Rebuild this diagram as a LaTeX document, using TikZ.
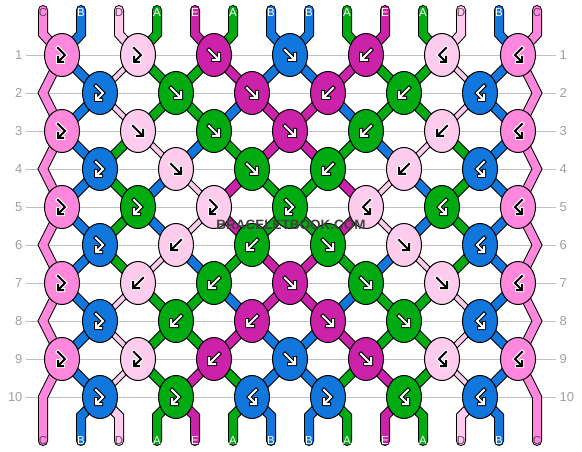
\documentclass[tikz,border=0pt]{standalone}
\usepackage{fontspec}
\setmainfont{Liberation Sans}
\usetikzlibrary{shapes.geometric,backgrounds}

\definecolor{thrA}{HTML}{00AA11}
\definecolor{thrB}{HTML}{1177DD}
\definecolor{thrC}{HTML}{FF88DD}
\definecolor{thrD}{HTML}{FFCCEE}
\definecolor{thrE}{HTML}{CC22AA}
\colorlet{inkA}{white}\colorlet{rimA}{black}
\colorlet{inkB}{white}\colorlet{rimB}{black}
\colorlet{inkE}{white}\colorlet{rimE}{black}
\colorlet{inkC}{black}\colorlet{rimC}{white}
\colorlet{inkD}{black}\colorlet{rimD}{white}
\colorlet{txtA}{white}\colorlet{txtB}{white}\colorlet{txtE}{white}
\definecolor{txtC}{HTML}{6E3A66}\colorlet{txtD}{txtC}

\tikzset{
  knot/.style={ellipse, draw, line width=1pt, minimum width=35pt, minimum height=43pt, inner sep=0pt},
  strand/.style={line width=1pt, double distance=8pt, line cap=round},
  linkA/.style={}, linkB/.style={}, linkC/.style={}, linkE/.style={},
  linkD/.style={double distance=4.5pt},
  gridline/.style={black!25, line width=0.9pt},
  rowno/.style={text=gray!75, font=\fontsize{13}{13}\selectfont},
  endlabel/.style={font=\fontsize{11.5}{12}\selectfont, inner sep=0pt},
  % knot icons: #1 ink, #2 rim
  pics/fwd/.style 2 args={code={
    \draw[line width=4pt, line cap=rect, #2] (-5,-5) -- (4,4) (-1,5) -- (5,5) -- (5,-1);
    \draw[line width=2pt, line cap=rect, #1] (-5,-5) -- (4,4) (-1,5) -- (5,5) -- (5,-1);}},
  pics/bwd/.style 2 args={code={
    \draw[line width=4pt, line cap=rect, #2] (5,-5) -- (-4,4) (1,5) -- (-5,5) -- (-5,-1);
    \draw[line width=2pt, line cap=rect, #1] (5,-5) -- (-4,4) (1,5) -- (-5,5) -- (-5,-1);}},
  pics/fb/.style 2 args={code={
    \draw[line width=4pt, line cap=rect, #2] (-4,-7) -- (3,0) -- (-3,6) (-4,2) -- (-4,7) -- (1,7);
    \draw[line width=2pt, line cap=rect, #1] (-4,-7) -- (3,0) -- (-3,6) (-4,2) -- (-4,7) -- (1,7);}},
  pics/bf/.style 2 args={code={
    \draw[line width=4pt, line cap=rect, #2] (4,-7) -- (-3,0) -- (3,6) (4,2) -- (4,7) -- (-1,7);
    \draw[line width=2pt, line cap=rect, #1] (4,-7) -- (-3,0) -- (3,6) (4,2) -- (4,7) -- (-1,7);}},
}

\begin{document}
\begin{tikzpicture}[x=1pt,y=-1pt]
\useasboundingbox (0,0) rectangle (582,452);

% string ends, top and bottom
\foreach \c [count=\p] in {C,B,D,A,E,A,B,B,A,E,A,D,B,C} {
  \coordinate (top-\p) at (5+38*\p,10);
  \coordinate (tbend-\p) at (5+38*\p,34);
  \coordinate (bbend-\p) at (5+38*\p,416);
  \coordinate (bot-\p) at (5+38*\p,441);
  \node[endlabel, text=txt\c] (tl-\p) at (5+38*\p,13) {\c};
  \node[endlabel, text=txt\c] (bl-\p) at (5+38*\p,441) {\c};
}
\foreach \r in {2,4,6,8,10} {
  \coordinate (k-\r-0) at (43,17+38*\r);
  \coordinate (k-\r-7) at (537,17+38*\r);
}

% row numbers
\foreach \r in {1,...,10} {
  \node[rowno, anchor=east] (rl-\r) at (26,17+38*\r) {\r};
  \node[rowno, anchor=west] (rr-\r) at (556,17+38*\r) {\r};
}

% knots
\foreach \r/\knots in {
  1/{fb/C,fb/D,fwd/E,fwd/B,bwd/E,bf/D,bf/C},
  2/{fb/B,fwd/A,fwd/E,bwd/E,bwd/A,bf/B},
  3/{fb/C,fwd/D,fwd/A,fwd/E,bwd/A,bwd/D,bf/C},
  4/{fb/B,fwd/D,fwd/A,bwd/A,bwd/D,bf/B},
  5/{fb/C,fb/A,fb/D,fb/A,bf/D,bf/A,bf/C},
  6/{fb/B,bwd/D,bwd/A,fwd/A,fwd/D,bf/B},
  7/{fb/C,bwd/D,bwd/A,fwd/E,fwd/A,fwd/D,bf/C},
  8/{fb/B,bwd/A,bwd/E,fwd/E,fwd/A,bf/B},
  9/{fb/C,fb/D,bwd/E,fwd/B,fwd/E,bf/D,bf/C},
  10/{fb/B,fb/A,bf/B,fb/B,bf/A,bf/B}} {
  \foreach \t/\c [count=\k] in \knots {
    \ifodd\r\relax \pgfmathtruncatemacro\x{76*\k-14}\else \pgfmathtruncatemacro\x{76*\k+24}\fi
    \node[knot, fill=thr\c] (k-\r-\k) at (\x,17+38*\r) {};
    \pic at (k-\r-\k) {\t={ink\c}{rim\c}};
  }
}

\node[font=\bfseries\fontsize{13.5}{14}\selectfont, text=black!75] (mark) at (291,225) {BRACELETBOOK.COM};

\begin{pgfonlayer}{background}
\foreach \r in {1,...,10}
  \draw[gridline] (rl-\r.east) -- (rr-\r.west);

% threads into row 1 and out of row 10
\foreach \c [count=\p] in {C,B,D,A,E,A,B,B,A,E,A,D,B,C} {
  \ifnum\p>1 \ifnum\p<14
    \pgfmathtruncatemacro\a{(\p+1)/2}
    \pgfmathtruncatemacro\b{\p/2}
    \draw[strand, double=thr\c] (top-\p) -- (tbend-\p) -- (k-1-\a.center);
    \draw[strand, double=thr\c] (k-10-\b.center) -- (bbend-\p) -- (bot-\p);
  \fi\fi
}

% threads between rows
\foreach \r/\lst in {
  1/{C,B,D,A,A,E,B,B,E,A,A,D,B,C},
  2/{C,B,D,A,A,B,E,E,B,A,A,D,B,C},
  3/{C,B,A,D,B,A,E,E,A,B,D,A,B,C},
  4/{C,B,A,B,D,E,A,A,E,D,B,A,B,C},
  5/{C,B,A,B,D,E,A,A,E,D,B,A,B,C},
  6/{C,B,A,D,B,A,E,E,A,B,D,A,B,C},
  7/{C,B,D,A,A,B,E,E,B,A,A,D,B,C},
  8/{C,B,D,A,A,E,B,B,E,A,A,D,B,C},
  9/{C,B,D,A,E,A,B,B,A,E,A,D,B,C}} {
  \pgfmathtruncatemacro\s{\r+1}
  \foreach \c [count=\p] in \lst {
    \ifnum\p>1 \ifnum\p<14
      \ifodd\r\relax
        \pgfmathtruncatemacro\a{(\p+1)/2}\pgfmathtruncatemacro\b{\p/2}
      \else
        \pgfmathtruncatemacro\a{\p/2}\pgfmathtruncatemacro\b{(\p+1)/2}
      \fi
      \draw[strand, double=thr\c, link\c] (k-\r-\a.center) -- (k-\s-\b.center);
    \fi\fi
  }
}

% edge threads
\draw[strand, double=thrC] (top-1) -- (tbend-1)
  \foreach \r/\k in {1/1,2/0,3/1,4/0,5/1,6/0,7/1,8/0,9/1,10/0} { -- (k-\r-\k.center) } -- (bot-1);
\draw[strand, double=thrC] (top-14) -- (tbend-14)
  \foreach \r in {1,...,10} { -- (k-\r-7.center) } -- (bot-14);
\end{pgfonlayer}
\end{tikzpicture}
\end{document}
